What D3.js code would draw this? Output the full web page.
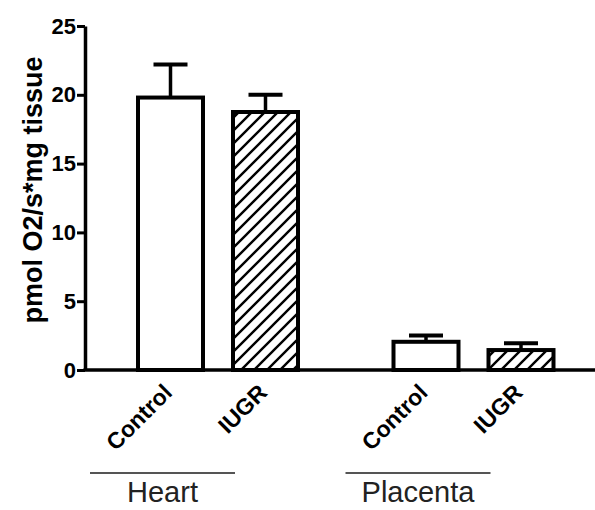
<!DOCTYPE html>
<html>
<head>
<meta charset="utf-8">
<script src="https://cdn.jsdelivr.net/npm/d3@7"></script>
<style>
  html, body { margin: 0; padding: 0; background: #fff; }
  svg { display: block; }
</style>
</head>
<body>
<script>
// ---- data ----
const groups = ["Heart", "Placenta"];
const conditions = ["Control", "IUGR"];
const means = [19.8, 18.75, 2.05, 1.45];          // Heart Control, Heart IUGR, Placenta Control, Placenta IUGR
const sems  = [2.4, 1.25, 0.45, 0.5];
const yTicks = [0, 5, 10, 15, 20, 25];
const yLabel = "pmol O2/s*mg tissue";

const rows = [];
groups.forEach((g, gi) => conditions.forEach((c, ci) => {
  const k = gi * conditions.length + ci;
  rows.push({ group: g, cond: c, mean: means[k], sem: sems[k] });
}));

const W = 595, H = 510;
const svg = d3.select("body").append("svg").attr("width", W).attr("height", H);

const defs = svg.append("defs");
const pat = defs.append("pattern").attr("id", "hatch")
  .attr("patternUnits", "userSpaceOnUse").attr("width", 13).attr("height", 13);
pat.append("rect").attr("width", 13).attr("height", 13).attr("fill", "#fff");
pat.append("path").attr("d", "M-3,3 L3,-3 M0,13 L13,0 M10,16 L16,10")
  .attr("stroke", "#000").attr("stroke-width", 2.4);

const axisX = 85;
const y = d3.scaleLinear().domain([0, 25]).range([370, 26]);
const xg = d3.scaleBand().domain(groups).range([90, 601]);
const xc = d3.scaleBand().domain(conditions).range([48, 208]).paddingInner(30 / 95);

// bars
const bars = svg.append("g");
rows.forEach(r => {
  const x0 = xg(r.group) + xc(r.cond);
  const bw = xc.bandwidth();
  const cx = x0 + bw / 2;
  bars.append("line").attr("x1", cx).attr("x2", cx)
    .attr("y1", y(r.mean)).attr("y2", y(r.mean + r.sem))
    .attr("stroke", "#000").attr("stroke-width", 3.5);
  bars.append("line").attr("x1", cx - 17).attr("x2", cx + 17)
    .attr("y1", y(r.mean + r.sem)).attr("y2", y(r.mean + r.sem))
    .attr("stroke", "#000").attr("stroke-width", 4);
  bars.append("rect")
    .attr("x", x0).attr("y", y(r.mean))
    .attr("width", bw).attr("height", y(0) - y(r.mean))
    .attr("fill", r.cond === "IUGR" ? "url(#hatch)" : "#fff")
    .attr("stroke", "#000").attr("stroke-width", 4);
});

// y axis
const yAxis = svg.append("g").attr("transform", `translate(${axisX},0)`)
  .call(d3.axisLeft(y).tickValues(yTicks).tickSize(8).tickSizeOuter(0).tickPadding(1));
yAxis.select(".domain").attr("stroke-width", 3.5);
yAxis.selectAll(".tick line").attr("stroke-width", 3);
yAxis.selectAll(".tick text")
  .attr("font-family", "Liberation Sans, Arial, sans-serif")
  .attr("font-weight", "bold").attr("font-size", 22).attr("fill", "#000");

// x axis baseline
svg.append("line").attr("x1", axisX - 1.5).attr("x2", W)
  .attr("y1", y(0)).attr("y2", y(0))
  .attr("stroke", "#000").attr("stroke-width", 3.5);

// y label
svg.append("text")
  .attr("transform", `translate(42,${190}) rotate(-90)`)
  .attr("text-anchor", "middle")
  .attr("font-family", "Liberation Sans, Arial, sans-serif")
  .attr("font-weight", "bold").attr("font-size", 27).attr("fill", "#000")
  .text(yLabel);

// category labels
rows.forEach(r => {
  const cx = xg(r.group) + xc(r.cond) + xc.bandwidth() / 2;
  svg.append("text")
    .attr("transform", `translate(${cx + 3},394) rotate(-45)`)
    .attr("text-anchor", "end")
    .attr("font-family", "Liberation Sans, Arial, sans-serif")
    .attr("font-weight", "bold").attr("font-size", 23).attr("fill", "#000")
    .text(r.cond);
});

// group lines + labels
groups.forEach(g => {
  const gx = xg(g);
  svg.append("line").attr("x1", gx).attr("x2", gx + 145)
    .attr("y1", 473).attr("y2", 473)
    .attr("stroke", "#555").attr("stroke-width", 2);
  svg.append("text").attr("x", gx + 72.5).attr("y", 502)
    .attr("text-anchor", "middle")
    .attr("font-family", "Liberation Sans, Arial, sans-serif")
    .attr("font-size", 29).attr("fill", "#222")
    .text(g);
});
</script>
</body>
</html>
